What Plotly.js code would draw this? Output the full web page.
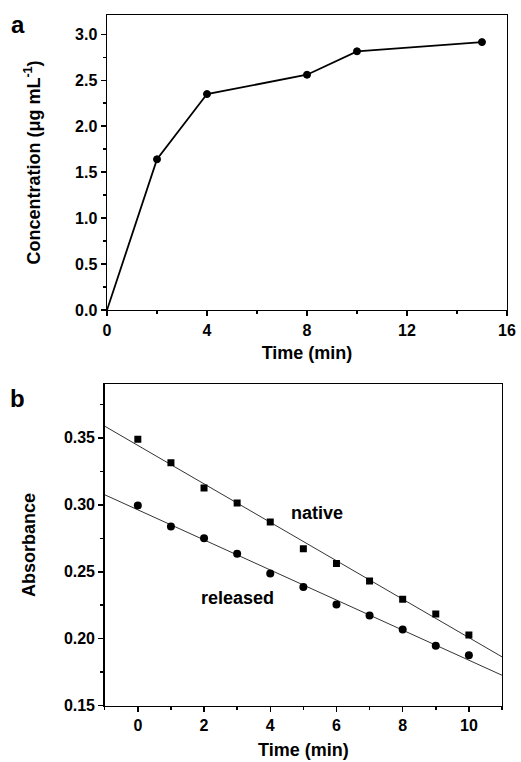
<!DOCTYPE html>
<html>
<head>
<meta charset="utf-8">
<script src="https://cdn.plot.ly/plotly-3.0.1.min.js"></script>
<style>html,body{margin:0;padding:0;background:#fff;}#chart{width:521px;height:762px;}</style>
</head>
<body>
<div id="chart"></div>
<script>
// Panel a: release concentration
const timeA = [0, 2, 4, 8, 10, 15];
const concA = [0, 1.64, 2.35, 2.56, 2.815, 2.915];

// Panel b: absorbance vs time
const timeB = [0, 1, 2, 3, 4, 5, 6, 7, 8, 9, 10];
const nativeAbs = [0.349, 0.3314, 0.3125, 0.3013, 0.2871, 0.2671, 0.2561, 0.2432, 0.2295, 0.2185, 0.2028];
const releasedAbs = [0.2995, 0.2838, 0.2751, 0.2634, 0.2487, 0.2387, 0.2255, 0.2173, 0.2068, 0.1948, 0.1877];

const xRangeB = [-1, 11];

function linfit(xs, ys) {
  const n = xs.length;
  const mx = xs.reduce((a, b) => a + b, 0) / n;
  const my = ys.reduce((a, b) => a + b, 0) / n;
  let sxy = 0, sxx = 0;
  for (let i = 0; i < n; i++) { sxy += (xs[i] - mx) * (ys[i] - my); sxx += (xs[i] - mx) ** 2; }
  const m = sxy / sxx;
  return { m: m, b: my - m * mx };
}
const fitN = linfit(timeB, nativeAbs);
const fitR = linfit(timeB, releasedAbs);
const fitX = xRangeB;

const FONT = 'Liberation Sans, Arial, sans-serif';
const tickFont = { family: FONT, size: 16, color: '#000', weight: 'bold' };
const titleFont = { family: FONT, size: 18, color: '#000', weight: 'bold' };

const traces = [
  {
    x: timeA, y: concA, xaxis: 'x', yaxis: 'y', type: 'scatter', mode: 'lines',
    line: { color: '#000', width: 1.8 }, showlegend: false
  },
  {
    x: timeA.slice(1), y: concA.slice(1), xaxis: 'x', yaxis: 'y', type: 'scatter', mode: 'markers',
    marker: { color: '#000000', size: 7, opacity: 1, line: { color: '#000000', width: 1 } },
    showlegend: false
  },
  {
    x: fitX, y: fitX.map(x => fitN.b + fitN.m * x), xaxis: 'x2', yaxis: 'y2', type: 'scatter', mode: 'lines',
    line: { color: '#333', width: 1 }, showlegend: false
  },
  {
    x: fitX, y: fitX.map(x => fitR.b + fitR.m * x), xaxis: 'x2', yaxis: 'y2', type: 'scatter', mode: 'lines',
    line: { color: '#333', width: 1 }, showlegend: false
  },
  {
    x: timeB, y: nativeAbs, xaxis: 'x2', yaxis: 'y2', type: 'scatter', mode: 'markers',
    marker: { color: '#000', size: 7, symbol: 'square', line: { width: 0 } }, showlegend: false
  },
  {
    x: timeB, y: releasedAbs, xaxis: 'x2', yaxis: 'y2', type: 'scatter', mode: 'markers',
    marker: { color: '#000', size: 8, symbol: 'circle', line: { width: 0 } }, showlegend: false
  }
];

const axisCommon = {
  showgrid: false, zeroline: false, showline: true, linecolor: '#000', linewidth: 1.5,
  mirror: true, ticks: 'outside', ticklen: 5, tickwidth: 1.5, tickcolor: '#000',
  tickfont: tickFont
};

const layout = {
  width: 521, height: 762,
  margin: { l: 0, r: 0, t: 0, b: 0 },
  paper_bgcolor: '#fff', plot_bgcolor: '#fff',
  showlegend: false,
  xaxis: Object.assign({}, axisCommon, {
    domain: [0.2054, 0.9731], anchor: 'y', range: [0, 16], dtick: 4, tick0: 0,
    minor: { dtick: 2, ticks: 'outside', ticklen: 3, tickwidth: 1.5, tickcolor: '#000' },
    title: { text: 'Time (min)', font: titleFont, standoff: 8 }
  }),
  yaxis: Object.assign({}, axisCommon, {
    domain: [0.5932, 0.9803], anchor: 'x', range: [0, 3.21], dtick: 0.5, tick0: 0, tickformat: '.1f',
    minor: { dtick: 0.25, ticks: 'outside', ticklen: 3, tickwidth: 1.5, tickcolor: '#000' },
    title: { text: 'Concentration (μg mL<sup>-1</sup>)', font: titleFont, standoff: 30 }
  }),
  xaxis2: Object.assign({}, axisCommon, {
    domain: [0.2010, 0.9635], anchor: 'y2', range: xRangeB, dtick: 2, tick0: 0,
    minor: { dtick: 1, ticks: 'outside', ticklen: 3, tickwidth: 1.5, tickcolor: '#000' },
    title: { text: 'Time (min)', font: titleFont, standoff: 10 }
  }),
  yaxis2: Object.assign({}, axisCommon, {
    domain: [0.0739, 0.4957], anchor: 'x2', range: [0.15, 0.39], dtick: 0.05, tick0: 0.15, tickformat: '.2f',
    minor: { dtick: 0.025, ticks: 'outside', ticklen: 3, tickwidth: 1.5, tickcolor: '#000' },
    title: { text: 'Absorbance', font: titleFont, standoff: 23 }
  }),
  annotations: [
    { text: 'a', xref: 'paper', yref: 'paper', x: 0.0345, y: 0.9685, xanchor: 'center', yanchor: 'middle',
      showarrow: false, font: { family: FONT, size: 24, color: '#000', weight: 'bold' } },
    { text: 'b', xref: 'paper', yref: 'paper', x: 0.0336, y: 0.4775, xanchor: 'center', yanchor: 'middle',
      showarrow: false, font: { family: FONT, size: 24, color: '#000', weight: 'bold' } },
    { text: 'native', xref: 'x2', yref: 'y2', x: 5.4, y: 0.294, xanchor: 'center', yanchor: 'middle',
      showarrow: false, font: { family: FONT, size: 18, color: '#000', weight: 'bold' } },
    { text: 'released', xref: 'x2', yref: 'y2', x: 3.0, y: 0.2305, xanchor: 'center', yanchor: 'middle',
      showarrow: false, font: { family: FONT, size: 18, color: '#000', weight: 'bold' } }
  ]
};

Plotly.newPlot('chart', traces, layout, { staticPlot: true, displayModeBar: false });
</script>
</body>
</html>
